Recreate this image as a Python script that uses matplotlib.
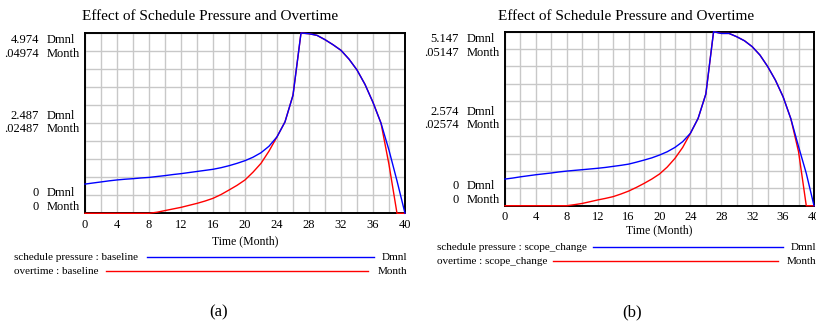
import numpy as np
import matplotlib
matplotlib.use("Agg")
import matplotlib.pyplot as plt
from matplotlib.lines import Line2D

plt.rcParams['font.family'] = ['Liberation Serif', 'DejaVu Serif']

# time axis (months), one saved point per month
months = list(range(0, 41))

# (a) baseline run
pressure_a = [0.806, 0.836, 0.865, 0.895, 0.920, 0.940, 0.955, 0.975, 0.990, 1.015,
              1.040, 1.069, 1.094, 1.124, 1.154, 1.184, 1.214, 1.258, 1.313, 1.378,
              1.452, 1.547, 1.671, 1.850, 2.109, 2.522, 3.258, 4.974, 4.954, 4.909,
              4.790, 4.651, 4.496, 4.253, 3.954, 3.556, 3.059, 2.487, 1.741, 0.895, 0.0]
overtime_a = [0, 0, 0, 0, 0, 0, 0, 0, 0, 0.0003,
              0.00075, 0.0012, 0.00164, 0.00219, 0.00274, 0.00338, 0.00413, 0.00517, 0.00642, 0.00771,
              0.0092, 0.01134, 0.01378, 0.01716, 0.02109, 0.02522, 0.03258, 0.04974, 0.04954, 0.04909,
              0.0479, 0.04651, 0.04496, 0.04253, 0.03954, 0.03556, 0.03059, 0.02487, 0.01343, 0.0, 0.0]

# (b) scope_change run
pressure_b = [0.788, 0.818, 0.854, 0.885, 0.916, 0.942, 0.968, 0.999, 1.024, 1.045,
              1.065, 1.086, 1.107, 1.132, 1.163, 1.194, 1.230, 1.287, 1.349, 1.415,
              1.498, 1.596, 1.724, 1.894, 2.141, 2.584, 3.304, 5.147, 5.096, 5.096,
              4.998, 4.879, 4.704, 4.457, 4.118, 3.716, 3.222, 2.574, 1.750, 0.957, 0.0]
overtime_b = [0, 0, 0, 0, 0, 0, 0, 0, 0, 0.00031,
              0.00067, 0.00118, 0.0017, 0.00216, 0.00268, 0.00345, 0.00432, 0.0054, 0.00659, 0.00788,
              0.00937, 0.01143, 0.014, 0.01724, 0.02141, 0.02584, 0.03304, 0.05147, 0.05096, 0.05096,
              0.04998, 0.04879, 0.04704, 0.04457, 0.04118, 0.03716, 0.03222, 0.02574, 0.01596, 0.0, 0.0]

xticks = list(range(0, 41, 4))
title = "Effect of Schedule Pressure and Overtime"

W, H = 816, 326
fig = plt.figure(figsize=(W / 100, H / 100), dpi=100)


def px(x, y):
    # pixel position -> figure fraction
    return x / W, 1 - y / H


def panel(left, right, top, bottom, pressure, overtime, p_top, o_top, p_lbl, o_lbl,
          run, title_x, xlabel_pad, leg):
    ax = fig.add_axes([left / W, 1 - bottom / H, (right - left) / W, (bottom - top) / H])
    ax.set_xlim(0, 40)
    ax.set_ylim(0, o_top)
    ax.set_xticks(np.arange(0, 41, 2), minor=True)
    ax.set_xticks(xticks)
    ax.set_yticks(np.linspace(0, o_top, 11))
    ax.grid(True, which='both', color='#c8c8c8', lw=1.0)
    ax.set_axisbelow(True)
    ax.tick_params(axis='x', which='both', length=0, pad=4, labelsize=9)
    ax.tick_params(axis='y', length=0, labelleft=False)
    for s in ax.spines.values():
        s.set_color('black')
        s.set_linewidth(1.4)
    ax.plot(months, overtime, color='#ff0000', lw=1.0, clip_on=False, zorder=3)

    ax2 = ax.twinx()
    ax2.set_ylim(0, p_top)
    ax2.set_yticks([])
    for s in ax2.spines.values():
        s.set_visible(False)
    ax2.plot(months, pressure, color='#0000ff', lw=1.0, clip_on=False, zorder=4)

    ax.set_xlabel("Time (Month)", fontsize=8.5, labelpad=xlabel_pad)

    # stacked y labels, Vensim style
    h = bottom - top
    xr = -46 / (right - left)
    xu = -38 / (right - left)
    for (ypx, val, unit) in [(7, p_lbl[0], "Dmnl"), (21, o_lbl[0], "Month"),
                             (h / 2 - 7, p_lbl[1], "Dmnl"), (h / 2 + 6, o_lbl[1], "Month"),
                             (h - 20, "0", "Dmnl"), (h - 6, "0", "Month")]:
        yf = 1 - ypx / h
        ax.text(xr, yf, val, transform=ax.transAxes, ha='right', va='center', fontsize=9)
        ax.text(xu, yf, unit, transform=ax.transAxes, ha='left', va='center', fontsize=9)

    fig.text(*px(title_x, 16), title, ha='center', va='center', fontsize=11)

    # legend rows
    (t0, y1, l1a, l1b, u1, y2, l2a, l2b, u2) = leg
    fig.text(*px(t0, y1), "schedule pressure : " + run, ha='left', va='center', fontsize=8)
    fig.add_artist(Line2D([l1a / W, l1b / W], [1 - y1 / H] * 2, color='#0000ff', lw=1.0))
    fig.text(*px(u1, y1), "Dmnl", ha='right', va='center', fontsize=8)
    fig.text(*px(t0, y2), "overtime : " + run, ha='left', va='center', fontsize=8)
    fig.add_artist(Line2D([l2a / W, l2b / W], [1 - y2 / H] * 2, color='#ff0000', lw=1.0))
    fig.text(*px(u2, y2), "Month", ha='right', va='center', fontsize=8)
    return ax


panel(85, 405, 33, 213.3, pressure_a, overtime_a, 4.974, 0.04974,
      ("4.974", "2.487"), (".04974", ".02487"), "baseline", 210, 3,
      (14, 257, 147, 374, 407, 271, 106, 368, 407))
panel(505, 814, 31.7, 205.7, pressure_b, overtime_b, 5.147, 0.05147,
      ("5.147", "2.574"), (".05147", ".02574"), "scope_change", 626, 1,
      (437, 247, 593, 783, 816, 261, 553, 778, 816))

fig.text(*px(219, 312), "(a)", ha='center', va='center', fontsize=12)
fig.text(*px(632, 312), "(b)", ha='center', va='center', fontsize=12)

fig.savefig("out.png", dpi=100)
